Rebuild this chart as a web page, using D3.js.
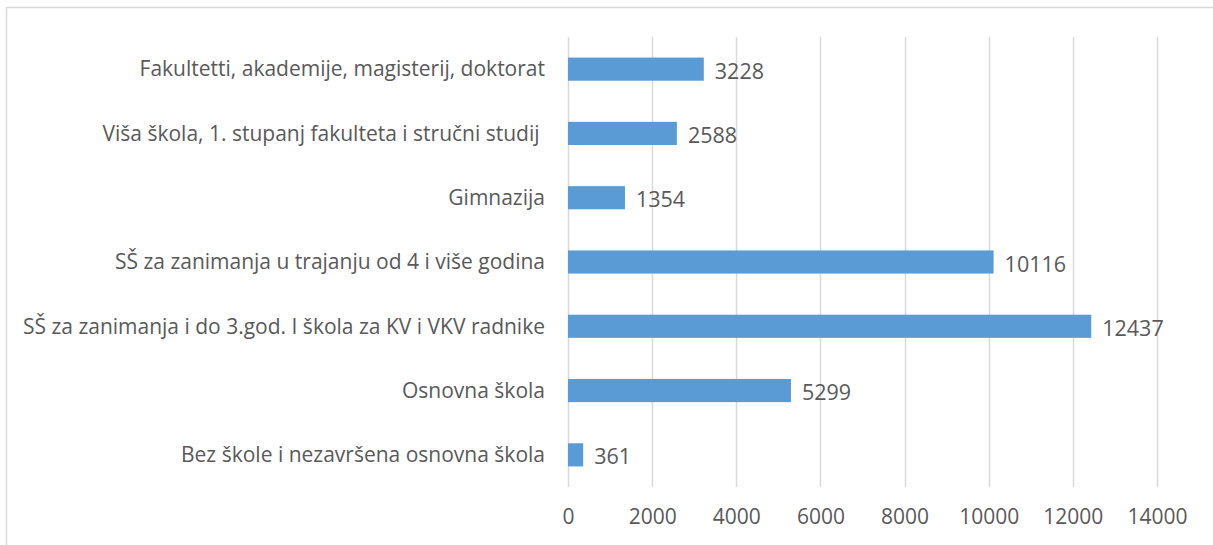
<!DOCTYPE html>
<html>
<head>
<meta charset="utf-8">
<script src="https://cdn.jsdelivr.net/npm/d3@7"></script>
<style>
  body { margin: 0; background: #fff; }
  svg text { font-family: "Open Sans", "Noto Sans", sans-serif; fill: #595959; white-space: pre; }
</style>
</head>
<body>
<svg class="chart"></svg>
<script>
var categories = [
  "Fakultetti, akademije, magisterij, doktorat",
  "Viša škola, 1. stupanj fakulteta i stručni studij ",
  "Gimnazija",
  "SŠ za zanimanja u trajanju od 4 i više godina",
  "SŠ za zanimanja i do 3.god. I škola za KV i VKV radnike",
  "Osnovna škola",
  "Bez škole i nezavršena osnovna škola"
];
var values = [3228, 2588, 1354, 10116, 12437, 5299, 361];
var xTicks = [0, 2000, 4000, 6000, 8000, 10000, 12000, 14000];

var W = 1213, H = 545;
var margin = {top: 37, right: 56, bottom: 58, left: 568};

var svg = d3.select(".chart")
    .attr("width", W)
    .attr("height", H);

// outer frame (right/bottom run off the picture)
svg.append("rect")
    .attr("x", 6.5)
    .attr("y", 7.5)
    .attr("width", W + 10)
    .attr("height", H + 10)
    .attr("fill", "none")
    .style("stroke", "#d9d9d9")
    .style("stroke-width", 1.5);

var x = d3.scaleLinear()
    .domain([0, 14000])
    .range([margin.left, W - margin.right]);

var y = d3.scaleBand()
    .domain(categories)
    .range([margin.top, H - margin.bottom])
    .paddingInner(0.64)
    .paddingOuter(0.32);

// gridlines
svg.append("g")
    .selectAll("line")
    .data(xTicks)
    .enter().append("line")
    .attr("x1", function(d) { return Math.round(x(d)) + 0.5; })
    .attr("x2", function(d) { return Math.round(x(d)) + 0.5; })
    .attr("y1", margin.top)
    .attr("y2", H - margin.bottom)
    .style("stroke", "#d9d9d9")
    .style("stroke-width", 1.5);

// x axis labels
var xAxis = d3.axisBottom(x)
    .tickValues(xTicks)
    .tickSize(0)
    .tickPadding(0)
    .tickFormat(d3.format("d"));

var gx = svg.append("g")
    .attr("transform", "translate(0," + (H - margin.bottom + 22) + ")")
    .call(xAxis);
gx.select(".domain").remove();
gx.selectAll("text")
    .style("font-size", "21px")
    .style("font-family", null)
    .attr("dy", "0.71em");

// bars
svg.append("g")
    .selectAll("rect")
    .data(values)
    .enter().append("rect")
    .attr("x", x(0))
    .attr("y", function(d, i) { return y(categories[i]); })
    .attr("height", y.bandwidth())
    .attr("width", function(d) { return x(d) - x(0); })
    .attr("fill", "#5b9bd5");

// value labels
svg.append("g")
    .selectAll("text")
    .data(values)
    .enter().append("text")
    .attr("x", function(d) { return x(d) + 11; })
    .attr("y", function(d, i) { return y(categories[i]) + y.bandwidth() / 2 + 2; })
    .attr("dy", "0.35em")
    .style("font-size", "21.5px")
    .text(function(d) { return d; });

// category labels
svg.append("g")
    .selectAll("text")
    .data(categories)
    .enter().append("text")
    .attr("x", margin.left - 23)
    .attr("y", function(d) { return y(d) + y.bandwidth() / 2; })
    .attr("dy", "0.35em")
    .attr("text-anchor", "end")
    .style("font-size", "21px")
    .text(function(d) { return d; });
</script>
</body>
</html>
